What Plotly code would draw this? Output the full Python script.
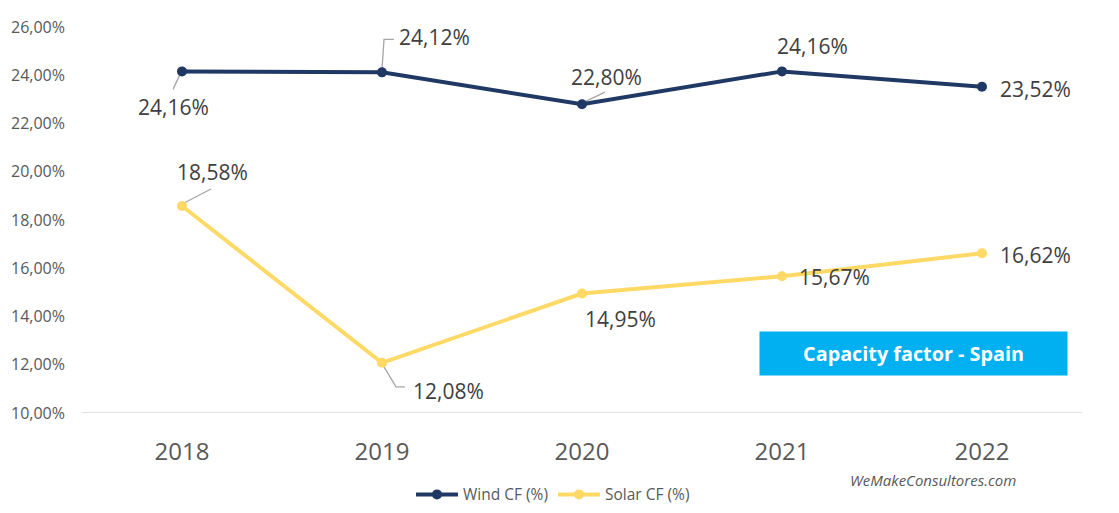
import plotly.graph_objects as go

years = ["2018", "2019", "2020", "2021", "2022"]
wind_cf = [24.16, 24.12, 22.80, 24.16, 23.52]
solar_cf = [18.58, 12.08, 14.95, 15.67, 16.62]
y_ticks = [10, 12, 14, 16, 18, 20, 22, 24, 26]

WIND = "#203864"
SOLAR = "#FFD966"
FONT = "Open Sans"

def fmt(v):
    return f"{v:.2f}".replace(".", ",") + "%"

# label offsets (pixels, x right / y up) relative to each point
wind_off = [(-9, -36), (52, 35), (24, 27), (30, 25), (53, -2)]
solar_off = [(30, 34), (66, -28), (38, -25), (52, -1), (53, -2)]

# leader line paths (pixel offsets relative to point, y up)
wind_leaders = {0: "M-2,-3 L-9,-18", 1: "M0,3 L2,33 L12,33", 2: "M2,2 L23,12"}
solar_leaders = {0: "M2,3 L29,17", 1: "M2,-4 L14,-24 L23,-24"}

fig = go.Figure()
fig.add_trace(go.Scatter(x=years, y=wind_cf, name="Wind CF (%)", mode="lines+markers",
                         line=dict(color=WIND, width=4), marker=dict(size=10, color=WIND)))
fig.add_trace(go.Scatter(x=years, y=solar_cf, name="Solar CF (%)", mode="lines+markers",
                         line=dict(color=SOLAR, width=4), marker=dict(size=10, color=SOLAR)))

anns = []
shapes = []
for vals, offs, leaders in [(wind_cf, wind_off, wind_leaders), (solar_cf, solar_off, solar_leaders)]:
    for i, v in enumerate(vals):
        dx, dy = offs[i]
        anns.append(dict(x=i, y=v, xref="x", yref="y", text=fmt(v), showarrow=False,
                         xanchor="center", yanchor="middle",
                         xshift=dx, yshift=dy, font=dict(family=FONT, size=21, color="#404040")))
        if i in leaders:
            shapes.append(dict(type="path", xref="x", yref="y", xsizemode="pixel", ysizemode="pixel",
                               xanchor=i, yanchor=v, path=leaders[i],
                               line=dict(color="#A6A6A6", width=1.3), layer="below"))

anns.append(dict(x=0.8315, y=0.154, xref="paper", yref="paper", text="<b>Capacity factor - Spain</b>",
                 showarrow=False, bgcolor="#00B0F0", width=303, height=39, borderpad=2,
                 xanchor="center", yanchor="middle",
                 font=dict(family=FONT, size=19.8, color="white")))
anns.append(dict(x=0.851, y=-0.174, xref="paper", yref="paper", text="<i>WeMakeConsultores.com</i>",
                 showarrow=False, xanchor="center", yanchor="middle",
                 font=dict(family=FONT, size=15, color="#595959")))

fig.update_layout(
    width=1119, height=513,
    margin=dict(l=82, r=37, t=27, b=100, autoexpand=False),
    paper_bgcolor="white", plot_bgcolor="white",
    showlegend=True,
    legend=dict(orientation="h", x=0.471, xanchor="center", y=-0.212, yanchor="middle",
                itemwidth=42, font=dict(family=FONT, size=15.5, color="#595959")),
    annotations=anns, shapes=shapes,
    xaxis=dict(range=[-0.5, 4.5], showgrid=False, showline=False, zeroline=False,
               tickfont=dict(family=FONT, size=24, color="#595959"), ticklabelstandoff=22),
    yaxis=dict(range=[10, 26], tickvals=y_ticks, ticktext=[f"{t},00%" for t in y_ticks],
               showgrid=False, zeroline=False, showline=False,
               tickfont=dict(family=FONT, size=16, color="#595959"), ticklabelstandoff=16),
)
fig.add_hline(y=10, line=dict(color="#D9D9D9", width=1.5), layer="below")

fig.write_html("out.html", config={"displayModeBar": False},
               post_script="document.body.style.margin='0';document.body.style.overflow='hidden';")
